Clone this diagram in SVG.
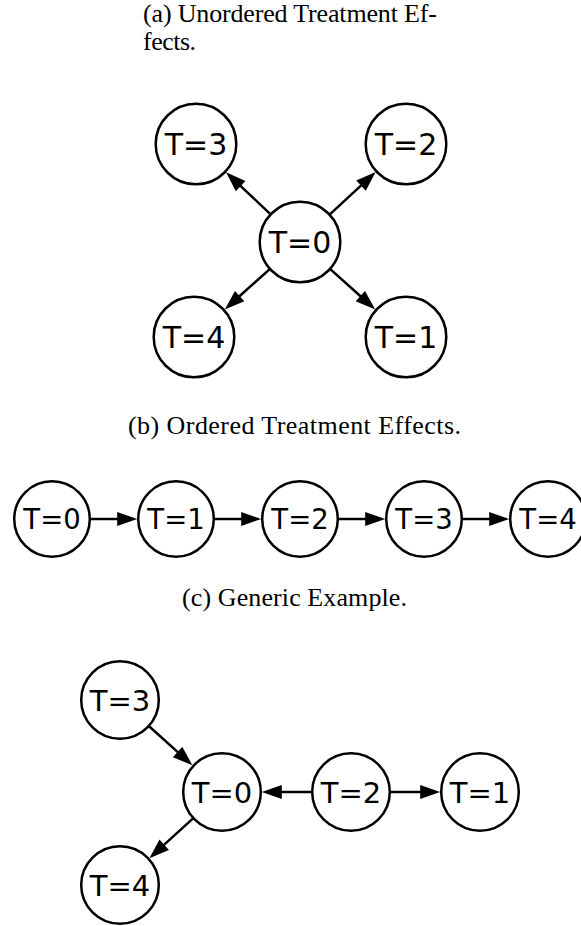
<svg xmlns="http://www.w3.org/2000/svg" width="581" height="926" viewBox="0 0 581 926">
<style>
.cap{font-family:"Liberation Serif","Times New Roman",serif;font-size:26px;fill:#000}
.node circle{fill:#fff;stroke:#000;stroke-width:2.5}
.node text{font-family:"DejaVu Sans",sans-serif;text-anchor:middle;fill:#000}
.a .node text{font-size:30px}
.b .node text{font-size:27.5px}
.c .node text{font-size:29px}
.edges line{stroke:#000;stroke-width:2.5;marker-end:url(#arr)}
</style>
<defs>
<marker id="arr" markerUnits="userSpaceOnUse" markerWidth="22" markerHeight="16" refX="1" refY="7" orient="auto" overflow="visible">
<path d="M0,0 L20,7 L0,14 Z" fill="#000"/>
</marker>
</defs>
<rect width="581" height="926" fill="#fff"/>
<text class="cap" x="143" y="22" textLength="294" lengthAdjust="spacing">(a) Unordered Treatment Ef-</text>
<text class="cap" x="143" y="50" textLength="53" lengthAdjust="spacing">fects.</text>
<text class="cap" x="128" y="434" textLength="333" lengthAdjust="spacing">(b) Ordered Treatment Effects.</text>
<text class="cap" x="182" y="606" textLength="225" lengthAdjust="spacing">(c) Generic Example.</text>

<g class="a">
<g class="edges" id="edges-a">
<line x1="270.67" y1="214.36" x2="239.89" y2="185.35"/>
<line x1="329.59" y1="214.64" x2="361.72" y2="184.94"/>
<line x1="269.99" y1="268.90" x2="238.91" y2="296.76"/>
<line x1="329.99" y1="268.90" x2="361.09" y2="296.76"/>
</g>
<g class="node" id="a-T0"><circle cx="300" cy="242" r="40.3"/><text x="300" y="253">T=0</text></g>
<g class="node" id="a-T3"><circle cx="196" cy="144" r="40.3"/><text x="196" y="155">T=3</text></g>
<g class="node" id="a-T2"><circle cx="406" cy="144" r="40.3"/><text x="406" y="155">T=2</text></g>
<g class="node" id="a-T4"><circle cx="194" cy="337" r="40.3"/><text x="194" y="348">T=4</text></g>
<g class="node" id="a-T1"><circle cx="406" cy="337" r="40.3"/><text x="406" y="348">T=1</text></g>
</g>

<g class="b">
<g class="edges" id="edges-b">
<line x1="89.8" y1="519" x2="118.2" y2="519"/>
<line x1="213.8" y1="519" x2="242.2" y2="519"/>
<line x1="337.8" y1="519" x2="366.2" y2="519"/>
<line x1="461.8" y1="519" x2="490.2" y2="519"/>
</g>
<g class="node" id="b-T0"><circle cx="52" cy="519" r="37.8"/><text x="52" y="529">T=0</text></g>
<g class="node" id="b-T1"><circle cx="176" cy="519" r="37.8"/><text x="176" y="529">T=1</text></g>
<g class="node" id="b-T2"><circle cx="300" cy="519" r="37.8"/><text x="300" y="529">T=2</text></g>
<g class="node" id="b-T3"><circle cx="424" cy="519" r="37.8"/><text x="424" y="529">T=3</text></g>
<g class="node" id="b-T4"><circle cx="548" cy="519" r="37.8"/><text x="548" y="529">T=4</text></g>
</g>

<g class="c">
<g class="edges" id="edges-c">
<line x1="148.81" y1="725.99" x2="178.34" y2="752.61"/>
<line x1="193.33" y1="818.14" x2="163.45" y2="845.38"/>
<line x1="312.2" y1="792" x2="280.8" y2="792"/>
<line x1="389.8" y1="792" x2="421.2" y2="792"/>
</g>
<g class="node" id="c-T3"><circle cx="120" cy="700" r="38.8"/><text x="120" y="710.5">T=3</text></g>
<g class="node" id="c-T0"><circle cx="222" cy="792" r="38.8"/><text x="222" y="802.5">T=0</text></g>
<g class="node" id="c-T2"><circle cx="351" cy="792" r="38.8"/><text x="351" y="802.5">T=2</text></g>
<g class="node" id="c-T1"><circle cx="480" cy="792" r="38.8"/><text x="480" y="802.5">T=1</text></g>
<g class="node" id="c-T4"><circle cx="120" cy="885" r="38.8"/><text x="120" y="895.5">T=4</text></g>
</g>
</svg>
